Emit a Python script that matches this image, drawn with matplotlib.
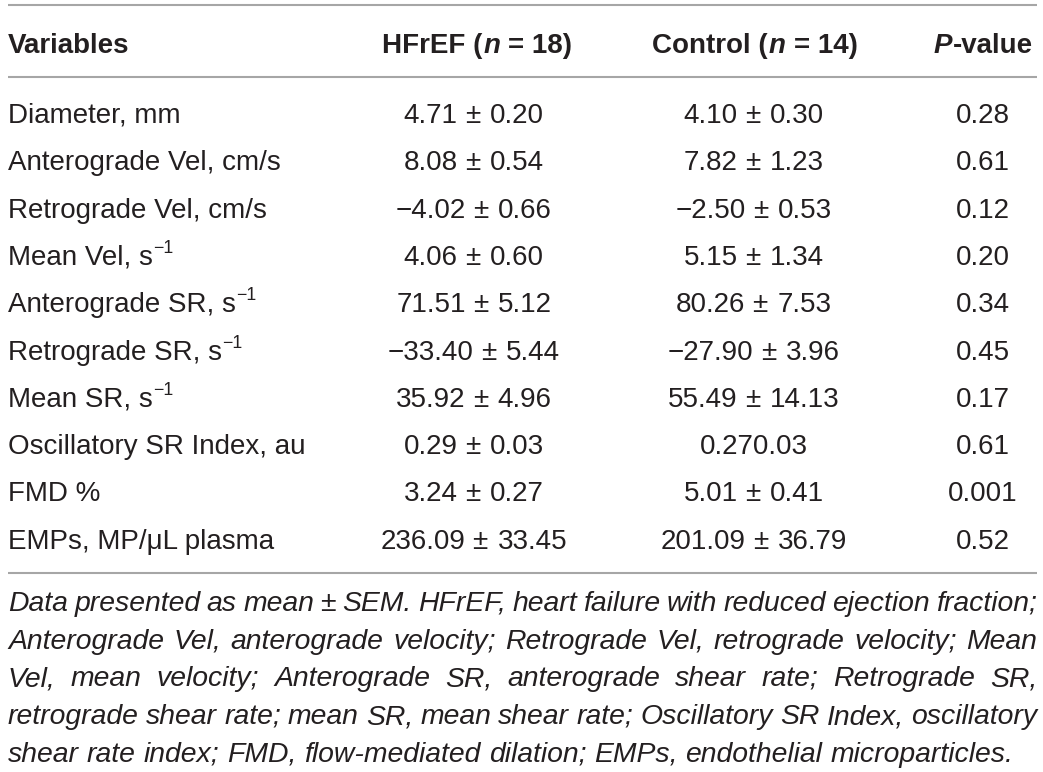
import matplotlib
matplotlib.use('Agg')
import matplotlib.pyplot as plt

# table contents
variables = ['Diameter, mm', 'Anterograde Vel, cm/s', 'Retrograde Vel, cm/s',
             'Mean Vel, s', 'Anterograde SR, s', 'Retrograde SR, s', 'Mean SR, s',
             'Oscillatory SR Index, au', 'FMD %', 'EMPs, MP/\u03bcL plasma']
unit_sup = ['', '', '', '\u22121', '\u22121', '\u22121', '\u22121', '', '', '']
hfref = ['4.71 \u00b1 0.20', '8.08 \u00b1 0.54', '\u22124.02 \u00b1 0.66', '4.06 \u00b1 0.60',
         '71.51 \u00b1 5.12', '\u221233.40 \u00b1 5.44', '35.92 \u00b1 4.96', '0.29 \u00b1 0.03',
         '3.24 \u00b1 0.27', '236.09 \u00b1 33.45']
control = ['4.10 \u00b1 0.30', '7.82 \u00b1 1.23', '\u22122.50 \u00b1 0.53', '5.15 \u00b1 1.34',
           '80.26 \u00b1 7.53', '\u221227.90 \u00b1 3.96', '55.49 \u00b1 14.13', '0.270.03',
           '5.01 \u00b1 0.41', '201.09 \u00b1 36.79']
pvals = ['0.28', '0.61', '0.12', '0.20', '0.34', '0.45', '0.17', '0.61', '0.001', '0.52']

footnote = [
    'Data presented as mean \u00b1 SEM. HFrEF, heart failure with reduced ejection fraction;',
    'Anterograde Vel, anterograde velocity; Retrograde Vel, retrograde velocity; Mean',
    'Vel, mean velocity; Anterograde SR, anterograde shear rate; Retrograde SR,',
    'retrograde shear rate; mean SR, mean shear rate; Oscillatory SR Index, oscillatory',
    'shear rate index; FMD, flow-mediated dilation; EMPs, endothelial microparticles.',
]

W, H = 1043, 772
FONT = 'Liberation Sans'
INK = '#231f20'
RULE = '#a6a6a6'

fig = plt.figure(figsize=(W / 100, H / 100), dpi=100)
ax = fig.add_axes([0, 0, 1, 1])
ax.set_xlim(0, W)
ax.set_ylim(H, 0)
ax.axis('off')
rend = fig.canvas.get_renderer()


def width(s, **kw):
    t = ax.text(0, 0, s, fontfamily=FONT, **kw)
    w = t.get_window_extent(rend).width
    t.remove()
    return w


# font sizes taken from measured text widths in the picture
body = 20 * 297 / width('Oscillatory SR Index, au', fontsize=20)
note = 20 * 1002 / width(footnote[-1], fontsize=20, style='italic')
sp_b = width('a a', fontsize=body, fontweight='bold') - width('aa', fontsize=body, fontweight='bold')


def runs(xc, y, parts, size, weight='bold', gaps=None):
    # parts = (text, style); gaps = gap after each part; centred on xc
    ws = [width(s, fontsize=size, fontweight=weight, style=st) for s, st in parts]
    total = sum(ws) + sum(gaps)
    x = xc - total / 2
    for (s, st), w, g in zip(parts, ws, gaps + [0]):
        ax.text(x, y, s, fontfamily=FONT, fontsize=size, fontweight=weight, style=st,
                color=INK, va='baseline', ha='left')
        x += w + g


def value(xc, y, s):
    if ' \u00b1 ' in s:
        a, b = s.split(' \u00b1 ')
        runs(xc, y, [(a, 'normal'), ('\u00b1', 'normal'), (b, 'normal')], body,
             weight='normal', gaps=[7, 10])
    else:
        ax.text(xc, y, s, fontfamily=FONT, fontsize=body, color=INK, va='baseline', ha='center')


# rules
for yy in (5, 76.5, 573):
    ax.plot([8, 1037], [yy, yy], color=RULE, lw=1.5, solid_capstyle='butt')

# header
hy = 53
ax.text(8, hy, 'Variables', fontfamily=FONT, fontsize=body, fontweight='bold',
        color=INK, va='baseline')
runs(477, hy, [('HFrEF (', 'normal'), ('n', 'italic'), ('= 18)', 'normal')], body, gaps=[1, sp_b])
runs(755, hy, [('Control (', 'normal'), ('n', 'italic'), ('= 14)', 'normal')], body, gaps=[1, sp_b])
runs(983, hy, [('P', 'italic'), ('-value', 'normal')], body, gaps=[1])

# body rows
y0, dy = 123, 47.3
for i in range(len(variables)):
    y = y0 + i * dy
    ax.text(8, y, variables[i], fontfamily=FONT, fontsize=body, color=INK, va='baseline')
    if unit_sup[i]:
        xs = 8 + width(variables[i], fontsize=body)
        ax.text(xs, y - 12, unit_sup[i], fontfamily=FONT, fontsize=body * 0.64,
                color=INK, va='baseline')
    value(474, y, hfref[i])
    value(754, y, control[i])
    ax.text(983, y, pvals[i], fontfamily=FONT, fontsize=body, color=INK, va='baseline', ha='center')

# justified footnote
left, right = 8, 1037
fy0, fdy = 611, 37.7
nsp = width('a a', fontsize=note, style='italic') - width('aa', fontsize=note, style='italic')
for k, line in enumerate(footnote):
    y = fy0 + k * fdy
    words = line.split(' ')
    ws = [width(w, fontsize=note, style='italic') for w in words]
    if k < len(footnote) - 1:
        gap = (right - left - sum(ws)) / (len(words) - 1)
    else:
        gap = nsp
    x = left
    for w, ww in zip(words, ws):
        ax.text(x, y, w, fontfamily=FONT, fontsize=note, style='italic', color=INK,
                va='baseline', ha='left')
        x += ww + gap

fig.savefig('out.png', dpi=100)
